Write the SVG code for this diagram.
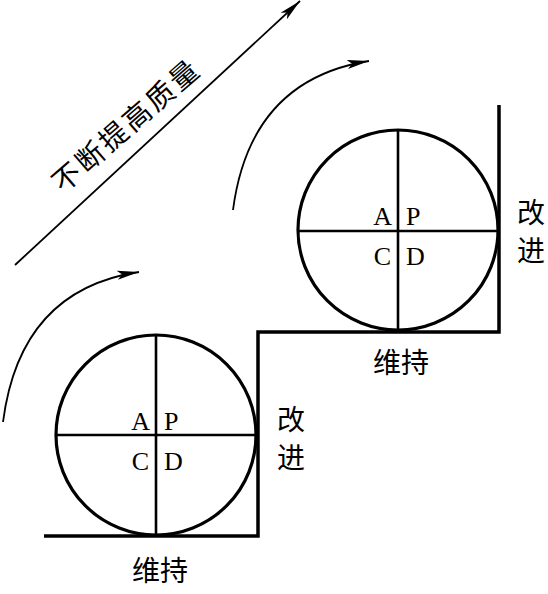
<svg xmlns="http://www.w3.org/2000/svg" width="548" height="594" viewBox="0 0 548 594">
<defs>
<style>
.circ{fill:none;stroke:#000;stroke-width:3.2}
.cross{stroke:#000;stroke-width:2.6}
.stair{fill:none;stroke:#000;stroke-width:3.5}
.arr{fill:none;stroke:#000;stroke-width:1.8}
.lat{font-family:"Liberation Serif",serif;font-size:26px;fill:#000}
.cjk{font-family:"Noto Sans CJK SC",sans-serif;font-size:28px;fill:#000}
</style>
<marker id="ah" markerUnits="userSpaceOnUse" markerWidth="24" markerHeight="10" refX="22" refY="4.5" orient="auto" viewBox="0 0 24 9">
<path d="M0,0 L22,4.5 L0,9 L5,4.5 Z" fill="#000"/>
</marker>
</defs>
<rect width="548" height="594" fill="#fff"/>
<g id="connectors">
<path class="stair" d="M44,536 H258 V332 H499 V105"/>
<line class="arr" x1="15" y1="265" x2="300" y2="1" marker-end="url(#ah)"/>
<path class="arr" d="M233,210 Q250,80 369,61" marker-end="url(#ah)"/>
<path class="arr" d="M3,422 Q20,290 139,272" marker-end="url(#ah)"/>
</g>
<g id="cycle-lower">
<circle class="circ" cx="156" cy="435" r="100"/>
<line class="cross" x1="156" y1="335" x2="156" y2="535"/>
<line class="cross" x1="56" y1="435" x2="256" y2="435"/>
<text class="lat" x="150" y="430" text-anchor="end">A</text>
<text class="lat" x="164" y="430">P</text>
<text class="lat" x="149" y="470" text-anchor="end">C</text>
<text class="lat" x="164" y="470">D</text>
</g>
<g id="cycle-upper">
<circle class="circ" cx="398" cy="230" r="100"/>
<line class="cross" x1="398" y1="130" x2="398" y2="330"/>
<line class="cross" x1="298" y1="231" x2="498" y2="231"/>
<text class="lat" x="392" y="225" text-anchor="end">A</text>
<text class="lat" x="406" y="225">P</text>
<text class="lat" x="391" y="265" text-anchor="end">C</text>
<text class="lat" x="406" y="265">D</text>
</g>
<g id="label-improve-lower">
<text class="cjk" x="291" y="430" text-anchor="middle">改</text>
<text class="cjk" x="291" y="468" text-anchor="middle">进</text>
</g>
<g id="label-improve-upper">
<text class="cjk" x="531" y="223" text-anchor="middle">改</text>
<text class="cjk" x="531" y="261" text-anchor="middle">进</text>
</g>
<g id="label-maintain-lower">
<text class="cjk" x="160" y="581" text-anchor="middle">维持</text>
</g>
<g id="label-maintain-upper">
<text class="cjk" x="401" y="373" text-anchor="middle">维持</text>
</g>
<g id="label-quality">
<text class="cjk" x="0" y="0" text-anchor="middle" letter-spacing="3" transform="translate(133,133) rotate(-41)">不断提高质量</text>
</g>
</svg>
